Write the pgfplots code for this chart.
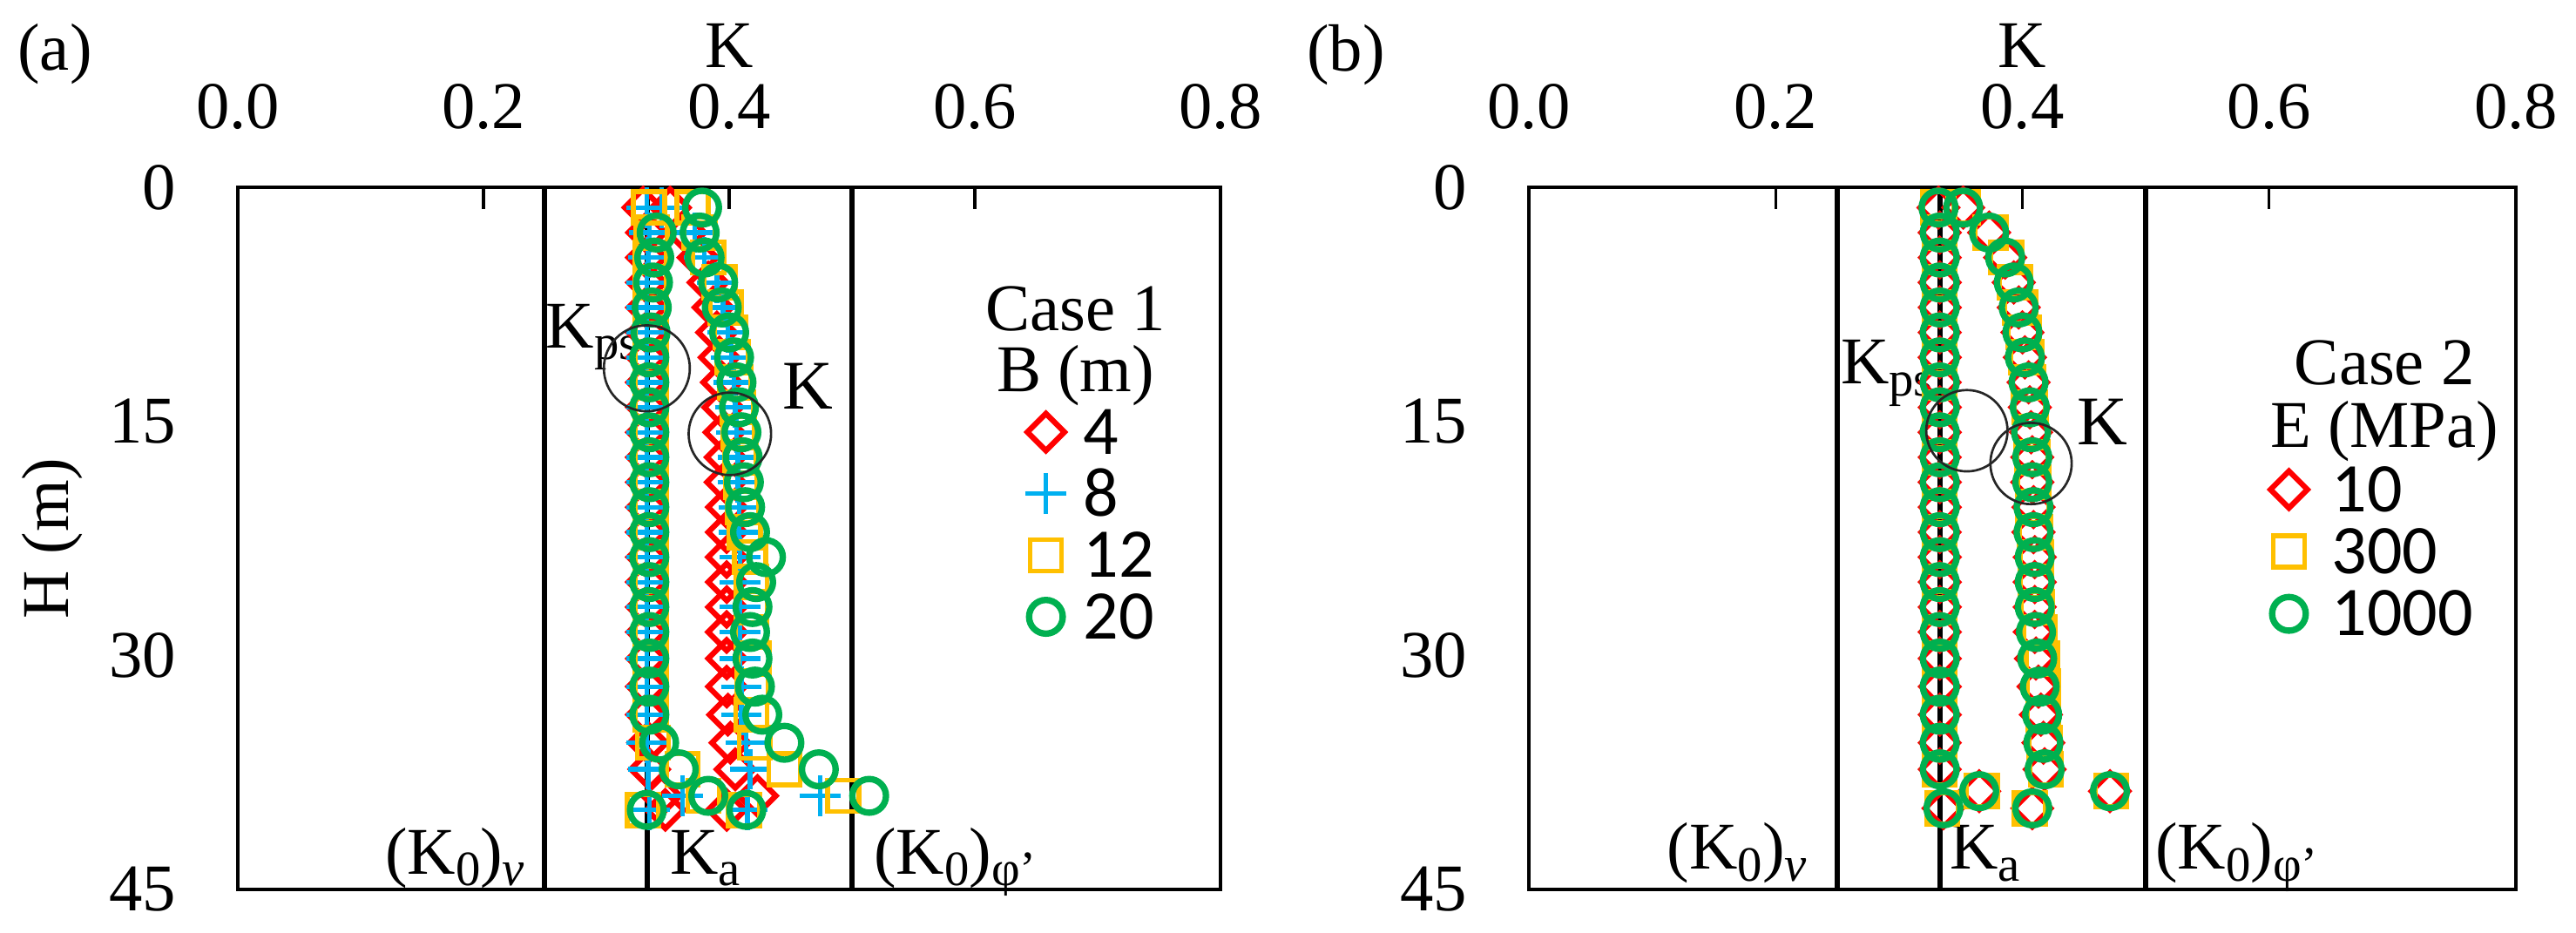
\documentclass[border=0pt]{standalone}
\usepackage{fontspec}
\setmainfont{Liberation Serif}
\newfontfamily\carlito{Carlito}
\usepackage{pgfplots}
\pgfplotsset{compat=1.18}
\definecolor{cred}{HTML}{FF0000}
\definecolor{cblue}{HTML}{00B0F0}
\definecolor{corange}{HTML}{FFC000}
\definecolor{cgreen}{HTML}{00B050}
\newcommand\sub[1]{\raisebox{-2pt}{\fontsize{8.5}{9}\selectfont #1}}
\pgfplotsset{
  kaxis/.style={
    scale only axis, height=120.9pt,
    xmin=0, xmax=0.8, ymin=0, ymax=45, y dir=reverse,
    xtick={0,0.2,0.4,0.6,0.8}, ytick={0,15,30,45},
    xtick pos=right, xticklabel pos=right, ytick pos=left,
    tick align=inside, major tick length=3.75pt,
    ytick style={draw=none},
    xtick style={line width=0.5pt, black},
    axis line style={line width=0.6pt},
    /pgf/number format/assume math mode=true,
    xticklabel style={/pgf/number format/fixed, /pgf/number format/fixed zerofill, /pgf/number format/precision=1, anchor=south, inner sep=0pt, yshift=9.75pt},
    yticklabel style={anchor=east, inner sep=0pt, xshift=-10.5pt},
    xlabel={K},
    xlabel style={at={(axis description cs:0.5,1.1712)}, anchor=base, inner sep=0pt},
    clip=false,
    legend cell align=left,
    legend image code/.code={\draw[##1] plot coordinates {(0pt,0pt)};},
  },
  mred/.style={only marks, mark=square, mark size=2.25pt, mark options={rotate=45, line width=0.95pt, draw=cred, solid}, cred},
  mblue/.style={only marks, mark=+, mark size=3.5pt, mark options={line width=0.8pt, draw=cblue, solid}, cblue},
  morange/.style={only marks, mark=square, mark size=2.7pt, mark options={line width=0.85pt, draw=corange, solid}, corange},
  mgreen/.style={only marks, mark=o, mark size=2.9pt, mark options={line width=1.1pt, draw=cgreen, solid}, cgreen},
  refline/.style={forget plot, black, line width=0.9pt},
  ring/.style={forget plot, only marks, mark=o, mark options={line width=0.4pt, draw=black!85, solid}},
}
\begin{document}
\fontsize{11.5}{13.8}\selectfont
\begin{tikzpicture}
\path[use as bounding box] (0,0) rectangle (443.55pt,160.5pt);
% ---------------- panel (a) ----------------
\begin{axis}[kaxis, at={(40.95pt,7.35pt)}, anchor=south west, width=169.2pt,
  ylabel={H (m)},
  ylabel style={at={(axis description cs:-0.189,0.5)}, anchor=center, inner sep=0pt},
  legend style={draw=none, fill=none, inner sep=0pt, outer sep=0pt,
    at={(axis cs:0.6598,15.69)}, anchor=north west, xshift=-3.9pt, yshift=3.8pt,
    row sep=3.0pt, column sep=3pt,
    font=\carlito\fontsize{12}{12}\selectfont,
    nodes={inner sep=0pt, text height=7.6pt, text depth=0pt}},
]
\addplot[refline] coordinates {(0.25,0) (0.25,45)};
\addplot[refline] coordinates {(0.3333,0) (0.3333,45)};
\addplot[refline] coordinates {(0.5,0) (0.5,45)};
% B = 4 m
\addplot[mred] coordinates {
(0.330,1.3) (0.333,2.9) (0.333,4.5) (0.333,6.1) (0.333,7.7) (0.333,9.3) (0.333,10.9) (0.333,12.5) (0.333,14.1) (0.333,15.7) (0.333,17.3) (0.333,18.9) (0.333,20.5) (0.333,22.1) (0.333,23.7) (0.333,25.3) (0.333,26.9) (0.333,28.5) (0.333,30.2) (0.333,32.0) (0.333,33.8) (0.334,35.6) (0.335,37.3) (0.345,39.0) (0.348,39.9)
(0.352,1.3) (0.365,2.9) (0.375,4.5) (0.383,6.1) (0.387,7.7) (0.390,9.3) (0.392,10.9) (0.394,12.5) (0.395,14.1) (0.396,15.7) (0.397,17.3) (0.397,18.9) (0.398,20.5) (0.398,22.1) (0.398,23.7) (0.398,25.3) (0.398,26.9) (0.398,28.5) (0.398,30.2) (0.398,32.0) (0.399,33.8) (0.401,35.6) (0.405,37.3) (0.423,39.0) (0.398,39.9)
};
\addlegendentry{4}
% B = 8 m
\addplot[mblue] coordinates {
(0.333,1.3) (0.335,2.9) (0.334,4.5) (0.333,6.1) (0.333,7.7) (0.333,9.3) (0.333,10.9) (0.333,12.5) (0.333,14.1) (0.333,15.7) (0.333,17.3) (0.333,18.9) (0.333,20.5) (0.333,22.1) (0.333,23.7) (0.333,25.3) (0.333,26.9) (0.333,28.5) (0.333,30.2) (0.333,32.0) (0.333,33.8) (0.333,35.6) (0.334,37.3) (0.362,39.0) (0.335,39.9)
(0.345,1.3) (0.372,2.9) (0.380,4.5) (0.390,6.1) (0.395,7.7) (0.399,9.3) (0.402,10.9) (0.404,12.5) (0.405,14.1) (0.406,15.7) (0.407,17.3) (0.407,18.9) (0.408,20.5) (0.408,22.1) (0.409,23.7) (0.409,25.3) (0.409,26.9) (0.409,28.5) (0.409,30.2) (0.410,32.0) (0.410,33.8) (0.414,35.6) (0.417,37.3) (0.474,39.0) (0.415,39.9)
};
\addlegendentry{8}
% B = 12 m
\addplot[morange] coordinates {
(0.335,1.3) (0.337,2.9) (0.336,4.5) (0.336,6.1) (0.336,7.7) (0.336,9.3) (0.336,10.9) (0.336,12.5) (0.336,14.1) (0.336,15.7) (0.336,17.3) (0.336,18.9) (0.336,20.5) (0.336,22.1) (0.336,23.7) (0.336,25.3) (0.336,26.9) (0.336,28.5) (0.336,30.2) (0.336,32.0) (0.336,33.8) (0.338,35.6) (0.362,37.3) (0.379,39.0) (0.330,39.9)
(0.370,1.3) (0.376,2.9) (0.383,4.5) (0.392,6.1) (0.397,7.7) (0.401,9.3) (0.403,10.9) (0.405,12.5) (0.407,14.1) (0.408,15.7) (0.409,17.3) (0.410,18.9) (0.411,20.5) (0.413,22.1) (0.417,23.7) (0.418,25.3) (0.418,26.9) (0.418,28.5) (0.420,30.2) (0.419,32.0) (0.418,33.8) (0.421,35.6) (0.445,37.3) (0.493,39.0) (0.412,39.9)
};
\addlegendentry{12}
% B = 20 m
\addplot[mgreen] coordinates {
(0.341,2.9) (0.339,4.5) (0.338,6.1) (0.337,7.7) (0.336,9.3) (0.335,10.9) (0.335,12.5) (0.335,14.1) (0.335,15.7) (0.335,17.3) (0.335,18.9) (0.335,20.5) (0.335,22.1) (0.335,23.7) (0.335,25.3) (0.335,26.9) (0.335,28.5) (0.335,30.2) (0.335,32.0) (0.335,33.8) (0.343,35.6) (0.359,37.3) (0.383,39.0) (0.333,39.9)
(0.378,1.3) (0.376,2.9) (0.380,4.5) (0.391,6.1) (0.394,7.7) (0.400,9.3) (0.404,10.9) (0.406,12.5) (0.408,14.1) (0.410,15.7) (0.411,17.3) (0.412,18.9) (0.413,20.5) (0.417,22.1) (0.430,23.7) (0.422,25.3) (0.419,26.9) (0.417,28.5) (0.419,30.2) (0.421,32.0) (0.427,33.8) (0.445,35.6) (0.473,37.3) (0.514,39.0) (0.414,39.9)
};
\addlegendentry{20}
\addplot[ring, mark size=7.4pt] coordinates {(0.333,11.6)};
\addplot[ring, mark size=7.1pt] coordinates {(0.4006,15.8)};
\node[anchor=base west, inner sep=0pt] at (axis cs:0.250,10.3) {K\sub{ps}};
\node[anchor=base west, inner sep=0pt, font=\fontsize{12}{14}\selectfont] at (axis cs:0.4425,14.2) {K};
\node[anchor=base, inner sep=0pt] at (axis cs:0.682,9.16) {Case 1};
\node[anchor=base, inner sep=0pt] at (axis cs:0.682,13.1) {B (m)};
\node[anchor=base east, inner sep=0pt] at (axis cs:0.2344,44.0) {(K\sub{0})\sub{\textit{v}}};
\node[anchor=base west, inner sep=0pt] at (axis cs:0.351,44.0) {K\sub{a}};
\node[anchor=base west, inner sep=0pt] at (axis cs:0.517,44.0) {(K\sub{0})\sub{φ'}};
\end{axis}
% ---------------- panel (b) ----------------
\begin{axis}[kaxis, at={(263.25pt,7.35pt)}, anchor=south west, width=169.95pt,
  legend style={draw=none, fill=none, inner sep=0pt, outer sep=0pt,
    at={(axis cs:0.618,19.37)}, anchor=north west, xshift=-3.6pt, yshift=3.8pt,
    row sep=3.1pt, column sep=4.2pt,
    font=\carlito\fontsize{12}{12}\selectfont,
    nodes={inner sep=0pt, text height=7.6pt, text depth=0pt}},
]
\addplot[refline] coordinates {(0.25,0) (0.25,45)};
\addplot[refline] coordinates {(0.3333,0) (0.3333,45)};
\addplot[refline] coordinates {(0.5,0) (0.5,45)};
% E = 10 MPa
\addplot[mred] coordinates {
(0.332,1.3) (0.333,2.9) (0.333,4.5) (0.333,6.1) (0.333,7.7) (0.333,9.3) (0.333,10.9) (0.333,12.5) (0.333,14.1) (0.333,15.7) (0.333,17.3) (0.333,18.9) (0.333,20.5) (0.333,22.1) (0.333,23.7) (0.333,25.3) (0.333,26.9) (0.333,28.5) (0.333,30.2) (0.333,32.0) (0.333,33.8) (0.333,35.6) (0.333,37.3) (0.365,38.7) (0.336,39.8)
(0.352,1.3) (0.373,2.9) (0.386,4.5) (0.393,6.1) (0.397,7.7) (0.400,9.3) (0.402,10.9) (0.405,12.5) (0.406,14.1) (0.407,15.7) (0.408,17.3) (0.408,18.9) (0.409,20.5) (0.409,22.1) (0.410,23.7) (0.410,25.3) (0.410,26.9) (0.410,28.5) (0.411,30.2) (0.413,32.0) (0.415,33.8) (0.417,35.6) (0.418,37.3) (0.471,38.7) (0.408,39.8)
};
\addlegendentry{10}
% E = 300 MPa
\addplot[morange] coordinates {
(0.332,1.3) (0.333,2.9) (0.333,4.5) (0.333,6.1) (0.333,7.7) (0.333,9.3) (0.333,10.9) (0.333,12.5) (0.333,14.1) (0.333,15.7) (0.333,17.3) (0.333,18.9) (0.333,20.5) (0.333,22.1) (0.333,23.7) (0.333,25.3) (0.333,26.9) (0.333,28.5) (0.333,30.2) (0.333,32.0) (0.333,33.8) (0.333,35.6) (0.333,37.3) (0.367,38.7) (0.335,39.8)
(0.352,1.3) (0.374,2.9) (0.387,4.5) (0.394,6.1) (0.398,7.7) (0.401,9.3) (0.403,10.9) (0.405,12.5) (0.406,14.1) (0.407,15.7) (0.408,17.3) (0.409,18.9) (0.409,20.5) (0.410,22.1) (0.411,23.7) (0.411,25.3) (0.412,26.9) (0.414,28.5) (0.416,30.2) (0.417,32.0) (0.417,33.8) (0.418,35.6) (0.419,37.3) (0.472,38.7) (0.406,39.8)
};
\addlegendentry{300}
% E = 1000 MPa
\addplot[mgreen] coordinates {
(0.332,1.3) (0.333,2.9) (0.333,4.5) (0.333,6.1) (0.333,7.7) (0.333,9.3) (0.333,10.9) (0.333,12.5) (0.333,14.1) (0.333,15.7) (0.333,17.3) (0.333,18.9) (0.333,20.5) (0.333,22.1) (0.333,23.7) (0.333,25.3) (0.333,26.9) (0.333,28.5) (0.333,30.2) (0.333,32.0) (0.333,33.8) (0.333,35.6) (0.333,37.3) (0.365,38.7) (0.336,39.8)
(0.352,1.3) (0.373,2.9) (0.386,4.5) (0.393,6.1) (0.397,7.7) (0.400,9.3) (0.402,10.9) (0.405,12.5) (0.406,14.1) (0.407,15.7) (0.408,17.3) (0.408,18.9) (0.409,20.5) (0.409,22.1) (0.410,23.7) (0.410,25.3) (0.410,26.9) (0.411,28.5) (0.412,30.2) (0.414,32.0) (0.416,33.8) (0.417,35.6) (0.418,37.3) (0.471,38.7) (0.408,39.8)
};
\addlegendentry{1000}
\addplot[ring, mark size=7.0pt] coordinates {(0.355,15.6)};
\addplot[ring, mark size=7.0pt] coordinates {(0.407,17.7)};
\node[anchor=base west, inner sep=0pt] at (axis cs:0.252,12.6) {K\sub{ps}};
\node[anchor=base west, inner sep=0pt, font=\fontsize{12}{14}\selectfont] at (axis cs:0.4435,16.5) {K};
\node[anchor=base, inner sep=0pt] at (axis cs:0.6935,12.62) {Case 2};
\node[anchor=base, inner sep=0pt] at (axis cs:0.6935,16.64) {E (MPa)};
\node[anchor=base east, inner sep=0pt] at (axis cs:0.226,43.7) {(K\sub{0})\sub{\textit{v}}};
\node[anchor=base west, inner sep=0pt] at (axis cs:0.3404,43.7) {K\sub{a}};
\node[anchor=base west, inner sep=0pt] at (axis cs:0.507,43.7) {(K\sub{0})\sub{φ'}};
\end{axis}
\node at (9.45pt,151.2pt) {(a)};
\node at (231.75pt,151.05pt) {(b)};
\end{tikzpicture}
\end{document}
